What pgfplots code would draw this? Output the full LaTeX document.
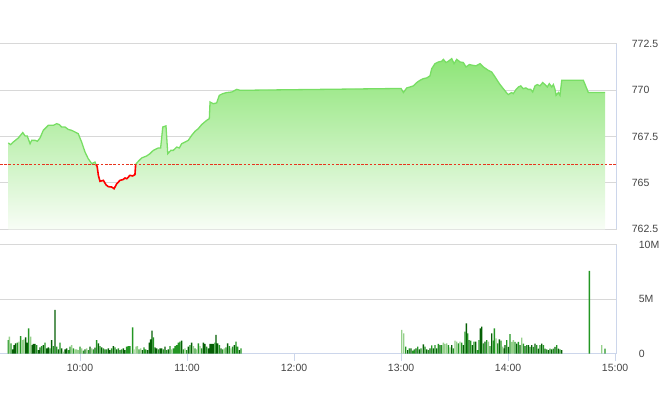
\documentclass[border=0pt]{standalone}
\usepackage{pgfplots}
\pgfplotsset{compat=1.18}
\usepackage{pgfplotstable}
\usepackage{fontspec}
\setmainfont{Liberation Sans}
\definecolor{gridc}{RGB}{216,216,216}
\definecolor{axisc}{RGB}{204,214,235}
\definecolor{labc}{RGB}{68,68,68}
\definecolor{lineg}{RGB}{120,222,100}
\definecolor{filltop}{RGB}{142,229,120}
\definecolor{fillbot}{RGB}{248,253,246}
\definecolor{refc}{RGB}{232,52,30}
\definecolor{vdark}{RGB}{5,95,5}
\definecolor{vmed}{RGB}{35,150,35}
\definecolor{vlight}{RGB}{150,208,140}

\pgfplotstableread{
x y
19.8 762.5
19.8 767.16
21.1 767.07
22.6 767.21
25.4 767.43
27.9 767.72
29.2 767.54
30.4 767.54
32.0 767.12
32.9 767.30
34.8 767.30
36.1 767.25
37.6 767.43
39.4 767.84
42.2 768.11
45.0 768.11
46.9 768.20
48.4 768.15
49.7 768.02
51.6 768.02
53.4 767.89
55.3 767.84
57.2 767.75
59.0 767.66
60.9 767.21
62.8 766.67
64.6 766.31
66.6 766.04
68.4 766.13
68.9 766.00
69.6 765.90
70.3 765.41
71.2 765.09
73.1 765.14
74.6 764.90
75.9 764.80
77.8 764.78
79.1 764.69
80.6 764.96
82.4 765.14
84.3 765.19
85.2 765.27
86.2 765.23
88.0 765.41
89.5 765.38
90.8 765.45
91.2 766.00
92.7 766.17
94.6 766.35
97.4 766.46
99.2 766.58
101.1 766.76
103.9 766.89
105.2 766.89
106.4 768.02
108.2 768.08
109.2 766.58
110.9 766.76
112.3 766.76
114.2 766.94
115.7 766.89
117.0 767.12
118.9 767.21
120.7 767.30
122.6 767.57
124.5 767.79
126.3 767.93
128.2 768.15
131.0 768.38
132.5 768.47
132.9 769.37
134.7 769.28
136.6 769.32
138.1 769.73
140.0 769.82
142.3 769.88
145.1 769.91
147.9 770.05
149.7 770.00
240.0 770.10
241.3 769.88
243.2 770.13
245.0 770.18
246.9 770.24
248.8 770.42
250.6 770.54
252.5 770.63
254.4 770.67
256.2 770.78
257.2 771.17
259.0 771.44
260.9 771.53
262.8 771.57
263.7 771.67
265.2 771.50
266.5 771.57
268.4 771.71
269.7 771.44
271.2 771.67
273.1 771.53
274.9 771.50
276.4 771.26
278.3 771.39
280.2 771.35
282.0 771.32
284.3 771.44
286.1 771.26
288.9 771.08
290.8 770.99
292.7 770.72
294.5 770.45
295.5 770.31
297.3 770.09
299.2 769.86
300.1 769.77
302.0 769.88
302.9 769.82
304.5 770.05
305.8 770.18
307.1 770.24
308.5 770.09
310.0 770.13
311.3 770.05
312.7 770.05
313.8 769.91
315.1 770.24
316.4 770.31
317.9 770.24
319.4 770.42
320.7 770.31
322.0 770.18
323.1 770.36
324.5 770.18
325.4 770.31
326.3 770.05
326.9 769.73
328.2 769.88
329.1 769.73
330.1 770.54
342.2 770.54
345.0 769.88
354.4 769.88
354.4 762.5
}\price

\pgfplotstableread{
x y c
19.81 1.24 1
20.37 1.55 2
21.31 0.94 1
22.24 0.38 0
22.99 0.78 0
23.92 0.94 0
24.86 1.00 1
25.79 1.09 2
26.73 1.61 1
27.66 1.24 2
28.60 1.31 2
29.53 1.49 0
30.47 1.00 0
31.21 2.32 1
32.33 1.55 2
33.08 0.78 0
33.83 0.88 0
34.76 0.88 0
35.70 0.78 1
36.63 0.32 0
37.57 0.57 0
38.50 0.69 1
39.44 0.78 0
40.37 1.00 1
41.31 0.48 0
42.24 0.57 0
43.18 0.48 1
44.11 1.24 0
45.04 0.69 1
45.98 4.01 0
46.91 0.63 1
47.85 0.38 0
48.78 1.00 1
49.72 0.48 0
50.65 0.17 2
51.59 0.38 0
52.52 0.48 0
53.45 0.32 1
54.39 0.63 1
55.32 0.78 2
56.26 0.48 1
57.19 0.38 2
58.13 0.38 2
59.06 0.32 2
60.00 0.63 1
60.93 0.48 2
61.87 0.26 1
62.80 0.38 0
63.73 0.48 2
64.67 0.32 1
65.60 0.63 0
66.54 0.48 2
67.47 0.38 1
68.41 0.54 0
69.34 1.24 1
70.28 0.94 0
71.21 0.69 1
72.14 0.57 0
73.08 0.48 1
74.01 0.38 0
74.95 0.38 1
75.88 0.48 0
76.82 0.32 0
77.75 0.48 1
78.69 0.69 0
79.62 0.57 1
80.56 0.38 0
81.49 0.48 1
82.42 0.32 0
83.36 0.38 1
84.29 0.48 0
85.22 0.32 0
86.16 0.63 1
87.09 0.69 1
88.03 0.69 1
89.52 2.41 1
90.27 0.38 2
91.39 0.63 2
92.14 0.69 2
93.07 0.38 1
94.01 0.48 2
94.94 0.32 0
95.88 0.57 1
96.81 0.38 1
97.75 0.32 0
98.87 1.00 0
99.62 1.31 0
100.36 2.10 0
101.11 1.49 1
102.04 0.57 0
102.98 0.48 0
103.91 0.38 1
104.85 0.48 0
105.78 0.48 0
106.72 0.38 1
107.65 0.63 0
108.59 0.32 1
109.52 0.38 0
110.46 0.69 1
111.39 0.38 2
112.32 0.48 1
113.26 0.69 1
114.19 0.78 1
115.13 1.00 1
116.06 1.09 1
117.00 1.18 0
117.93 0.38 1
118.87 0.48 2
119.80 0.32 1
120.73 0.63 0
121.67 0.78 1
122.60 1.00 0
123.54 0.69 2
124.47 0.48 1
125.41 0.38 2
126.34 0.94 1
127.28 0.69 2
128.21 0.48 1
129.15 1.00 0
130.08 0.88 0
131.01 0.63 1
131.95 0.48 0
132.88 0.88 0
133.82 0.88 0
134.75 0.88 0
135.69 1.00 1
136.25 1.71 0
137.18 0.94 0
138.12 0.78 1
139.05 0.48 0
139.99 0.38 1
140.92 0.48 2
141.86 0.57 1
142.79 0.94 0
143.72 0.69 1
144.66 0.48 2
145.59 0.63 1
146.53 0.78 0
147.46 1.09 1
148.40 0.63 1
149.33 0.32 0
150.27 0.48 1
240.36 2.17 2
241.48 1.86 2
242.60 0.63 1
243.72 0.32 0
244.66 0.48 1
245.59 0.48 0
246.53 0.26 1
247.46 0.38 1
248.40 0.48 0
249.33 0.63 1
250.26 0.38 0
251.20 0.48 1
252.51 0.84 0
253.44 0.63 1
254.38 0.38 0
255.31 0.32 1
256.25 0.48 0
257.18 0.75 1
258.11 0.48 0
259.05 0.78 1
259.98 0.48 0
260.92 0.88 1
261.85 0.78 0
262.79 0.78 1
263.72 1.00 2
264.66 0.88 2
265.59 0.94 2
266.52 0.78 1
267.46 0.57 2
268.39 0.78 0
269.33 0.48 1
270.26 1.18 2
271.20 1.09 2
272.13 0.94 1
273.07 1.09 2
274.00 1.00 1
274.93 0.78 0
275.87 2.01 1
276.62 2.78 0
277.36 1.86 1
278.11 1.24 0
279.05 1.18 1
279.98 0.78 0
280.92 1.09 1
281.85 1.09 0
282.78 0.32 1
283.72 1.24 1
284.47 2.32 0
285.21 2.47 0
286.15 0.94 1
287.08 1.09 0
288.02 1.24 1
288.95 1.09 2
289.89 0.69 1
290.82 1.86 0
291.76 1.18 1
292.32 2.32 1
293.25 1.40 2
294.19 0.94 1
295.12 1.31 0
296.05 1.18 1
296.99 0.63 2
297.74 0.48 0
298.29 0.77 0
299.23 1.23 1
300.16 0.61 0
301.10 1.78 1
302.03 1.08 2
302.97 1.23 2
303.90 1.08 1
304.83 0.92 0
305.77 1.08 1
306.70 0.77 0
307.64 1.47 2
308.57 0.92 1
309.51 0.68 0
310.44 0.77 1
311.38 0.77 0
312.31 0.61 1
313.24 0.77 0
314.18 0.61 1
315.11 0.92 0
316.05 0.77 1
316.98 0.46 0
317.92 0.77 1
318.85 0.92 0
319.79 0.77 1
320.72 0.46 0
321.66 0.37 1
322.59 0.31 0
323.52 0.46 1
324.46 0.37 0
325.39 0.46 1
326.33 0.61 0
327.26 0.77 1
328.20 0.46 0
329.13 0.37 1
330.07 0.31 0
345.58 7.62 1
352.49 0.77 2
354.36 0.46 1
}\vol

\begin{document}
\begin{tikzpicture}
\path[use as bounding box] (0,0) rectangle (660pt,412pt);
\begin{axis}[
  at={(0pt,182.7pt)}, anchor=south west,
  scale only axis, width=616.7pt, height=185.3pt,
  xmin=15.14, xmax=360.9, ymin=762.5, ymax=772.5,
  axis x line=none, axis y line*=right,
  y axis line style={color=axisc, line width=1pt},
  ytick={762.5,765,767.5,770,772.5},
  yticklabels={762.5,765,767.5,770,772.5},
  ymajorgrids, grid style={color=gridc, line width=1pt},
  ytick style={draw=none},
  yticklabel style={anchor=west, inner sep=0pt, xshift=15pt, font=\fontsize{10.5}{12}\selectfont, text=labc},
]
\addplot[draw=none, top color=filltop, bottom color=fillbot] table[x=x,y=y] {\price};
\addplot[refc, line width=1.8pt, dash pattern=on 2.6pt off 1.6pt] coordinates {(15.14,766) (360.9,766)};
\addplot[lineg, line width=1.3pt, restrict y to domain=763:780, restrict x to domain=0:68.95] table[x=x,y=y] {\price};
\addplot[lineg, line width=1.3pt, restrict y to domain=763:780, restrict x to domain=91.15:400] table[x=x,y=y] {\price};
\addplot[red, line width=1.6pt, restrict x to domain=68.85:91.25] table[x=x,y=y] {\price};
\end{axis}

\begin{axis}[
  at={(0pt,58.5pt)}, anchor=south west,
  scale only axis, width=616.7pt, height=108.5pt,
  xmin=15.14, xmax=360.9, ymin=0, ymax=10,
  axis x line*=bottom, axis y line*=right,
  axis line style={color=axisc, line width=1pt},
  xtick={60,120,180,240,300,360},
  xticklabels={10:00,11:00,12:00,13:00,14:00,15:00},
  ytick={0,5,10}, yticklabels={0,5M,10M},
  ymajorgrids, grid style={color=gridc, line width=1pt},
  tick align=outside, major tick length=7pt,
  xtick style={color=axisc, line width=1pt},
  ytick style={draw=none},
  yticklabel style={anchor=west, inner sep=0pt, xshift=15pt, font=\fontsize{10.5}{12}\selectfont, text=labc},
  xticklabel style={font=\fontsize{10.5}{12}\selectfont, text=labc},
]
\addplot[ybar, bar width=0.78, bar shift=0pt, fill=vdark, draw=none, restrict expr to domain={\thisrow{c}}{0:0}] table[x=x,y=y] {\vol};
\addplot[ybar, bar width=0.78, bar shift=0pt, fill=vmed, draw=none, restrict expr to domain={\thisrow{c}}{1:1}] table[x=x,y=y] {\vol};
\addplot[ybar, bar width=0.78, bar shift=0pt, fill=vlight, draw=none, restrict expr to domain={\thisrow{c}}{2:2}] table[x=x,y=y] {\vol};
\end{axis}
\end{tikzpicture}
\end{document}
